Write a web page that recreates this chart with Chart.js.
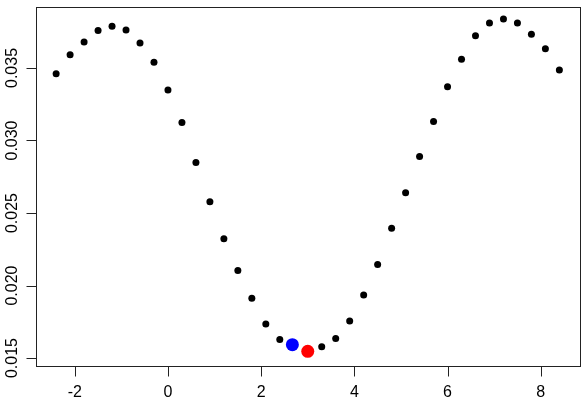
<!DOCTYPE html>
<html>
<head>
<meta charset="utf-8">
<script src="https://cdn.jsdelivr.net/npm/chart.js@4"></script>
<style>
  html, body { margin: 0; padding: 0; background: #fff; }
  #wrap { width: 586px; height: 404px; position: relative; }
</style>
</head>
<body>
<div id="wrap"><canvas id="plot"></canvas></div>
<script>
// x positions of the grid points
const xValues = [-2.4, -2.1, -1.8, -1.5, -1.2, -0.9, -0.6, -0.3, 0, 0.3, 0.6, 0.9, 1.2, 1.5, 1.8,
  2.1, 2.4, 2.7, 3.0, 3.3, 3.6, 3.9, 4.2, 4.5, 4.8, 5.1, 5.4, 5.7, 6.0, 6.3, 6.6, 6.9, 7.2,
  7.5, 7.8, 8.1, 8.4];
const yValues = [0.03461, 0.03591, 0.0368, 0.03758, 0.03787, 0.03762, 0.03673, 0.03539, 0.03348,
  0.03124, 0.02849, 0.02578, 0.02323, 0.02104, 0.01913, 0.01735, 0.01628, 0.0159, 0.01546,
  0.01578, 0.01635, 0.01756, 0.01935, 0.02145, 0.02395, 0.02639, 0.0289, 0.03131, 0.0337,
  0.0356, 0.03723, 0.0381, 0.03837, 0.0381, 0.03732, 0.03632, 0.03486];

// highlighted points
const bluePoint = [2.67, 0.01592];
const redPoint = [3.0, 0.01546];

const xTicks = [-2, 0, 2, 4, 6, 8];
const yTicks = [0.015, 0.020, 0.025, 0.030, 0.035];
const yTickLabels = ['0.015', '0.020', '0.025', '0.030', '0.035'];

const points = xValues.map((x, i) => ({ x: x, y: yValues[i] }));

// draws the R style box, ticks and labels
const rAxes = {
  id: 'rAxes',
  afterDraw(chart) {
    const ctx = chart.ctx;
    const a = chart.chartArea;
    const xs = chart.scales.x;
    const ys = chart.scales.y;
    ctx.save();
    ctx.strokeStyle = '#222';
    ctx.lineWidth = 1;
    const bx = Math.round(a.bottom) + 0.5;
    const lx = Math.round(a.left) + 0.5;
    ctx.strokeRect(lx, Math.round(a.top) + 0.5,
      Math.round(a.right) - Math.round(a.left), Math.round(a.bottom) - Math.round(a.top));

    ctx.fillStyle = '#000';
    ctx.font = '16px "Liberation Sans", Arial, sans-serif';

    // x axis ticks
    ctx.beginPath();
    xTicks.forEach(t => {
      const px = Math.round(xs.getPixelForValue(t)) + 0.5;
      ctx.moveTo(px, bx);
      ctx.lineTo(px, bx + 10);
    });
    ctx.stroke();
    ctx.textAlign = 'center';
    ctx.textBaseline = 'alphabetic';
    xTicks.forEach(t => {
      ctx.fillText(String(t), xs.getPixelForValue(t), 397);
    });

    // y axis ticks
    ctx.beginPath();
    yTicks.forEach(t => {
      const py = Math.round(ys.getPixelForValue(t)) + 0.5;
      ctx.moveTo(lx, py);
      ctx.lineTo(lx - 10, py);
    });
    ctx.stroke();
    yTicks.forEach((t, i) => {
      ctx.save();
      ctx.translate(17, ys.getPixelForValue(t));
      ctx.rotate(-Math.PI / 2);
      ctx.textAlign = 'center';
      ctx.fillText(yTickLabels[i], 0, 0);
      ctx.restore();
    });
    ctx.restore();
  }
};

new Chart(document.getElementById('plot'), {
  type: 'scatter',
  data: {
    datasets: [
      {
        data: [{ x: redPoint[0], y: redPoint[1] }],
        backgroundColor: '#ff0000',
        borderWidth: 0,
        pointRadius: 6.5
      },
      {
        data: [{ x: bluePoint[0], y: bluePoint[1] }],
        backgroundColor: '#0000ff',
        borderWidth: 0,
        pointRadius: 6.5
      },
      {
        data: points,
        backgroundColor: '#000',
        borderWidth: 0,
        pointRadius: 3.5
      }
    ]
  },
  options: {
    responsive: true,
    maintainAspectRatio: false,
    animation: false,
    layout: { padding: { left: 36, top: 2, right: 4, bottom: 38 } },
    plugins: { legend: { display: false }, tooltip: { enabled: false } },
    scales: {
      x: { type: 'linear', min: -2.832, max: 8.832, display: false },
      y: { type: 'linear', min: 0.01445, max: 0.03924, display: false }
    }
  },
  plugins: [rAxes]
});
</script>
</body>
</html>
